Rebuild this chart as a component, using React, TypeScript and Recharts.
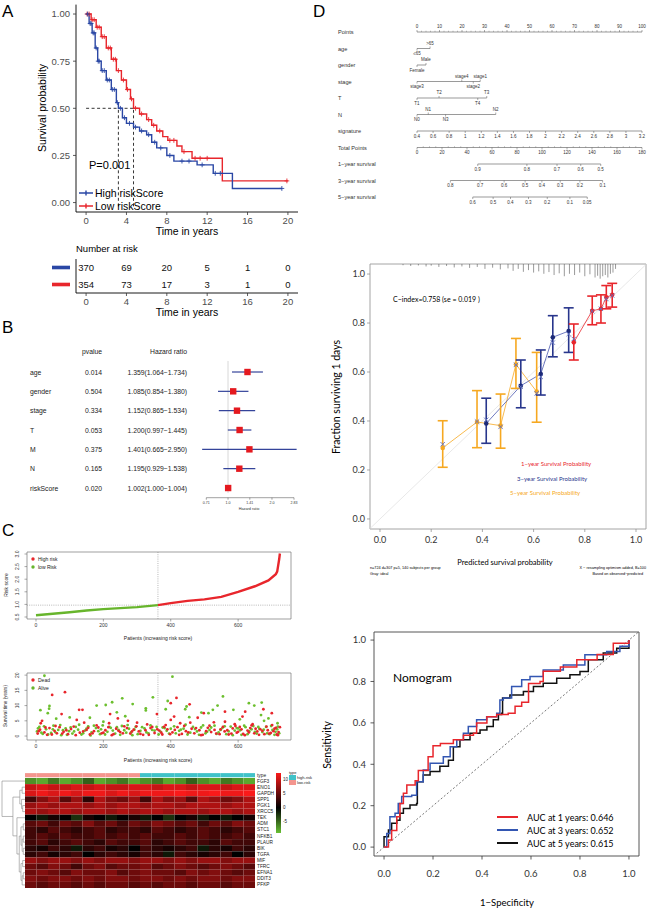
import React from 'react'
import {
  ComposedChart,
  Line,
  Scatter,
  XAxis,
  YAxis,
  ReferenceLine,
  ReferenceArea,
  ErrorBar,
} from 'recharts'

const SANS = '"Liberation Sans", Arial, Helvetica, sans-serif'
const MYR = 'Lato, "Noto Sans", sans-serif'

const BLUE = '#2a47a5'
const RED = '#e8262c'
const GREEN = '#67b52c'
const NAVY = '#28368c'
const ORANGE = '#f6a821'

// ---------- A: Kaplan-Meier ----------
const KM_HIGH: [number, number][] = [
  [0, 1], [0.3, 0.95], [0.6, 0.9], [0.9, 0.82], [1.15, 0.75], [1.5, 0.7], [2, 0.65], [2.5, 0.6],
  [3, 0.53], [3.2, 0.5], [3.6, 0.45], [4, 0.42], [4.7, 0.4], [5.3, 0.38], [6, 0.36], [6.5, 0.32],
  [7, 0.29], [8, 0.25], [8.7, 0.22], [11, 0.2], [12.6, 0.155], [14.5, 0.075], [19.4, 0.075],
]
const KM_LOW: [number, number][] = [
  [0, 1], [0.5, 0.97], [1, 0.93], [1.5, 0.88], [2, 0.82], [2.5, 0.76], [3, 0.7], [3.5, 0.65],
  [4, 0.6], [4.4, 0.55], [4.7, 0.5], [5.3, 0.47], [6, 0.44], [6.5, 0.41], [7, 0.38], [7.6, 0.35],
  [8.1, 0.33], [9, 0.3], [9.5, 0.27], [10.5, 0.235], [13.5, 0.115], [20, 0.115],
]
const CENS_HIGH_T = [0.15, 0.4, 0.5, 0.7, 0.8, 1.0, 1.2, 1.3, 1.6, 1.8, 2.1, 2.3, 2.6, 2.8, 3.1, 3.4, 3.8, 4.3, 4.9, 5.5, 6.2, 6.8, 7.4, 8.3, 9.5, 10.2, 11.5, 12.8, 13.3, 19.4]
const CENS_LOW_T = [0.1, 0.3, 0.6, 0.8, 1.1, 1.3, 1.6, 1.8, 2.2, 2.4, 2.7, 2.9, 3.2, 3.7, 4.1, 4.5, 4.9, 5.5, 6.2, 6.7, 7.3, 8.3, 8.7, 9.7, 10.8, 11.3, 12.0, 19.9]
const MEDIAN_HIGH = 3.2
const MEDIAN_LOW = 4.7
const KM_TICKS = [0, 4, 8, 12, 16, 20]
const AT_RISK_HIGH = [370, 69, 20, 5, 1, 0]
const AT_RISK_LOW = [354, 73, 17, 3, 1, 0]

// ---------- B: forest plot ----------
const VARS = ['age', 'gender', 'stage', 'T', 'M', 'N', 'riskScore']
const PVALS = ['0.014', '0.504', '0.334', '0.053', '0.375', '0.165', '0.020']
const HR = [1.359, 1.085, 1.152, 1.2, 1.401, 1.195, 1.002]
const HR_LO = [1.064, 0.854, 0.865, 0.997, 0.665, 0.929, 1.0]
const HR_HI = [1.734, 1.38, 1.534, 1.445, 2.95, 1.538, 1.004]
const HR_TICKS = [0.71, 1, 1.41, 2, 2.83]
const HR_TICK_LABELS = ['0.71', '1.0', '1.41', '2.0', '2.83']

// ---------- C: risk score, survival status, heatmap ----------
const RISK_LOW_CURVE: [number, number][] = [
  [0, 0.57], [50, 0.63], [100, 0.69], [150, 0.76], [200, 0.81], [250, 0.85], [300, 0.89], [362, 0.97],
]
const RISK_HIGH_CURVE: [number, number][] = [
  [362, 0.97], [400, 1.05], [450, 1.14], [500, 1.2], [550, 1.3], [600, 1.5], [650, 1.72], [690, 1.95],
  [712, 2.2], [716, 2.3], [719, 2.55], [722, 2.8], [724, 3.02],
]
const RISK_CUTOFF = 0.97
const CUT_PATIENT = 362
const PATIENT_TICKS = [0, 200, 400, 600]

const DEAD: [number, number][] = [
  [18, 5.0], [14, 4.2], [48, 13.5], [86, 14.4], [76, 7.2], [128, 8.6], [138, 8.6], [143, 4.4], [121, 5.3],
  [220, 7.2], [217, 4.2], [243, 5.8], [273, 5.0], [359, 7.2], [400, 10.8], [417, 12.5], [456, 10.4],
  [410, 6.4], [400, 5.3], [428, 4.2], [458, 4.4], [498, 7.5], [528, 4.5], [561, 8.0], [613, 6.4],
  [621, 8.0], [643, 3.9], [700, 7.5], [701, 3.6], [675, 8.8], [561, 4.7], [300, 4.4], [330, 3.8],
  [590, 3.9], [480, 6.0], [380, 3.0],
  [5, 0.8], [12, 2.1], [25, 1.2], [33, 0.4], [40, 2.6], [55, 1.7], [62, 0.9], [70, 2.9], [82, 1.4],
  [95, 0.6], [104, 2.3], [112, 3.1], [130, 1.1], [150, 2.0], [160, 0.5], [172, 1.6], [185, 2.8],
  [195, 0.9], [206, 1.9], [230, 0.6], [238, 2.4], [250, 1.3], [262, 3.2], [280, 0.8], [290, 2.1],
  [305, 1.5], [318, 0.4], [340, 2.6], [352, 1.0], [366, 1.8], [375, 0.5], [390, 2.2], [405, 1.2],
  [420, 2.9], [433, 0.7], [445, 1.6], [462, 2.4], [470, 0.9], [485, 1.9], [495, 0.4], [510, 2.7],
  [520, 1.3], [535, 0.8], [548, 2.2], [560, 1.5], [572, 0.5], [584, 2.5], [596, 1.1], [605, 3.0],
  [615, 0.7], [628, 1.8], [636, 2.6], [648, 0.9], [657, 1.5], [666, 2.2], [678, 0.6], [688, 1.9],
  [697, 1.0], [708, 2.4], [715, 0.5], [720, 1.3], [724, 2.9],
  [8, 1.6], [28, 2.8], [47, 0.5], [58, 3.3], [78, 0.8], [90, 1.9], [118, 0.3], [140, 1.5], [155, 2.7],
  [168, 0.9], [180, 3.5], [200, 1.1], [215, 2.9], [225, 0.3], [245, 1.7], [258, 0.9], [270, 2.6],
  [285, 1.5], [298, 3.2], [310, 0.7], [325, 1.9], [335, 0.4], [345, 3.0], [360, 2.2], [372, 1.1],
  [385, 3.6], [398, 0.6], [412, 2.0], [425, 0.4], [440, 3.3], [452, 1.2], [475, 2.6], [490, 0.3],
  [505, 1.6], [515, 3.4], [530, 2.0], [545, 0.6], [555, 3.0], [568, 1.9], [580, 0.8], [592, 3.3],
  [600, 1.4], [610, 2.2], [620, 0.3], [632, 1.2], [640, 3.5], [652, 2.4], [662, 0.4], [672, 1.7],
  [684, 3.1], [692, 0.8], [705, 1.6], [712, 2.7], [718, 0.3],
]
const ALIVE: [number, number][] = [
  [25, 19.8], [13, 8.5], [40, 9.9], [39, 9.0], [35, 7.5], [180, 10.0], [207, 10.2], [226, 11.1],
  [256, 12.4], [287, 10.5], [347, 12.7], [326, 9.1], [326, 8.4], [391, 11.5], [405, 19.5], [385, 8.8],
  [443, 8.8], [447, 9.7], [491, 7.7], [512, 7.5], [525, 8.6], [539, 10.0], [555, 13.0], [586, 8.6],
  [632, 10.8], [648, 10.0], [670, 11.0], [668, 6.9], [677, 5.0], [717, 4.2], [160, 6.0], [240, 7.8],
  [265, 6.5], [100, 6.1], [60, 5.7], [200, 4.7], [455, 6.2], [605, 5.5], [690, 5.8],
  [3, 1.5], [10, 3.0], [20, 0.7], [30, 2.2], [45, 1.0], [52, 3.4], [66, 2.0], [75, 0.3], [88, 2.5],
  [98, 1.6], [108, 0.8], [118, 3.0], [125, 2.1], [135, 0.5], [145, 1.8], [155, 3.2], [165, 1.2],
  [178, 2.6], [190, 0.6], [198, 3.5], [212, 1.4], [222, 2.7], [235, 0.8], [245, 2.0], [255, 3.3],
  [268, 1.1], [276, 2.4], [286, 0.3], [296, 3.0], [310, 1.7], [322, 2.5], [334, 0.9], [345, 2.0],
  [358, 3.0], [370, 1.4], [382, 2.6], [395, 0.8], [410, 3.2], [425, 1.7], [438, 2.4], [450, 0.5],
  [466, 3.0], [478, 1.5], [490, 2.8], [503, 0.9], [515, 2.0], [530, 3.4], [542, 1.2], [553, 2.6],
  [565, 0.6], [578, 3.1], [590, 1.8], [600, 2.5], [610, 0.4], [622, 2.9], [633, 1.6], [645, 3.3],
  [655, 0.8], [663, 2.4], [672, 1.3], [683, 3.0], [693, 0.6], [702, 2.0], [711, 1.4], [718, 3.1],
  [722, 0.9],
  [6, 2.5], [16, 1.1], [24, 3.2], [36, 0.5], [50, 2.2], [57, 1.3], [72, 3.6], [80, 1.9], [92, 0.4],
  [103, 2.8], [113, 1.5], [128, 3.7], [140, 0.9], [150, 2.4], [162, 0.2], [172, 3.4], [185, 1.6],
  [193, 2.2], [205, 0.5], [218, 3.0], [228, 1.8], [240, 2.9], [250, 0.4], [262, 1.9], [272, 3.6],
  [282, 1.2], [292, 2.1], [302, 0.6], [315, 2.9], [328, 1.2], [340, 3.5], [352, 1.8], [364, 0.5],
  [376, 2.8], [388, 1.7], [400, 2.4], [415, 0.9], [430, 2.1], [444, 3.7], [458, 1.1], [472, 2.3],
  [484, 0.4], [496, 3.5], [508, 1.4], [520, 2.8], [536, 0.7], [548, 2.0], [560, 3.2], [572, 1.5],
  [584, 0.3], [596, 2.6], [606, 1.9], [618, 3.4], [628, 0.6], [640, 2.2], [650, 1.4], [660, 3.0],
  [676, 2.1], [686, 0.9], [698, 3.3], [708, 0.4], [716, 2.2],
]

const GENES = ['FGF3', 'ENO1', 'GAPDH', 'SPP1', 'PGK1', 'XRCC5', 'TEK', 'ADM', 'STC1', 'NFKB1', 'PLAUR', 'BIK', 'TGFA', 'MIF', 'TFRC', 'EFNA1', 'DDIT3', 'PFKP']
const HEAT: number[][] = [
  [-6, -7, -5, -7, -6, -4, -7, -6, -5, -7, -6, -5, -7, -6, -4, -6, -7, -5, -6, -7],
  [9, 10, 9, 9, 10, 9, 10, 9, 9, 10, 10, 9, 10, 10, 9, 10, 10, 9, 10, 10],
  [10, 11, 10, 11, 10, 11, 11, 10, 11, 10, 11, 11, 11, 12, 11, 11, 12, 11, 11, 12],
  [3, 6, 8, 4, 7, 2, 8, 6, 5, 7, 3, 8, 6, 7, 4, 8, 7, 5, 6, 8],
  [7, 8, 7, 8, 8, 7, 8, 7, 8, 8, 7, 8, 8, 7, 8, 8, 8, 7, 8, 8],
  [8, 7, 8, 8, 7, 8, 8, 7, 8, 7, 8, 8, 7, 8, 8, 7, 8, 8, 7, 8],
  [0, -1, 1, 0, -2, 1, 0, -1, 0, 1, -1, 0, -2, 0, 1, -1, 0, -1, 0, 1],
  [4, 5, 3, 5, 4, 6, 4, 5, 3, 5, 4, 6, 5, 4, 5, 3, 5, 4, 6, 5],
  [3, 2, 4, 3, 2, 3, 4, 2, 3, 3, 2, 4, 3, 2, 3, 4, 3, 2, 3, 4],
  [3, 4, 3, 4, 3, 3, 4, 3, 4, 3, 4, 3, 3, 4, 3, 4, 3, 3, 4, 3],
  [3, 4, 2, 3, 4, 3, 2, 4, 3, 3, 4, 2, 3, 4, 3, 3, 2, 4, 3, 3],
  [2, 1, 3, 2, -1, 2, 3, 1, 2, 0, 3, 2, 1, 2, 3, -1, 2, 1, 3, 2],
  [2, 3, 1, 2, 3, 0, 2, 3, 2, 1, 3, 2, -1, 3, 2, 1, 2, 3, 0, 2],
  [7, 6, 7, 7, 6, 7, 6, 7, 7, 6, 7, 7, 6, 7, 6, 7, 7, 6, 7, 7],
  [5, 4, 6, 5, 3, 5, 6, 4, 5, 5, 6, 4, 5, 6, 5, 4, 5, 6, 5, 4],
  [5, 6, 5, 4, 6, 5, 5, 6, 4, 5, 6, 5, 5, 4, 6, 5, 6, 5, 4, 5],
  [6, 5, 6, 6, 5, 6, 5, 6, 6, 5, 6, 6, 5, 6, 5, 6, 6, 5, 6, 6],
  [5, 4, 5, 5, 4, 5, 4, 5, 5, 4, 5, 4, 5, 5, 4, 5, 5, 4, 5, 5],
]
const HEAT_TYPES = ['low', 'low', 'low', 'low', 'low', 'low', 'low', 'low', 'low', 'low',
  'high', 'high', 'high', 'high', 'high', 'high', 'high', 'high', 'high', 'high']
// gene clustering: [height, childA, childB]; 0..17 are genes, 18.. are earlier merges
const DENDRO: [number, number, number][] = [
  [-0.25, 1, 2], [-0.2, 4, 5], [-0.3, 3, 19], [-0.45, 18, 20],
  [-0.15, 7, 8], [-0.15, 9, 10], [-0.15, 11, 12], [-0.25, 23, 24], [-0.35, 22, 25],
  [-0.2, 13, 14], [-0.15, 15, 16], [-0.25, 28, 17], [-0.35, 27, 29], [-0.5, 26, 30],
  [-0.7, 6, 31], [-1.05, 21, 32], [-2.0, 0, 33],
]

// ---------- D: nomogram ----------
const NOMO_ROWS = ['Points', 'age', 'gender', 'stage', 'T', 'N', 'signature', 'Total Points', '1\u2212year survival', '3\u2212year survival', '5\u2212year survival']
const POINT_TICKS = [0, 10, 20, 30, 40, 50, 60, 70, 80, 90, 100]
const AGE_LEVELS: [number, string, number][] = [[0, '\u226465', 1], [5.8, '>65', -1]]
const GENDER_LEVELS: [number, string, number][] = [[0, 'Female', 1], [4, 'Male', -1]]
const STAGE_LEVELS: [number, string, number][] = [[0, 'stage3', 1], [19.9, 'stage4', -1], [25, 'stage2', 1], [28.1, 'stage1', -1]]
const T_LEVELS: [number, string, number][] = [[0, 'T1', 1], [9.8, 'T2', -1], [27, 'T4', 1], [31, 'T3', -1]]
const N_LEVELS: [number, string, number][] = [[0, 'N0', 1], [5, 'N1', -1], [12.7, 'N3', 1], [35, 'N2', -1]]
const SIG_TICKS = [0.4, 0.6, 0.8, 1, 1.2, 1.4, 1.6, 1.8, 2, 2.2, 2.4, 2.6, 2.8, 3, 3.2]
const TOTAL_TICKS = [0, 20, 40, 60, 80, 100, 120, 140, 160, 180]
const SURV1: [number, string][] = [[48.6, '0.9'], [87.9, '0.8'], [112, '0.7'], [131, '0.6'], [147, '0.5']]
const SURV3: [number, string][] = [[26.7, '0.8'], [50.5, '0.7'], [69.7, '0.6'], [86.5, '0.5'], [99.9, '0.4'], [114.6, '0.3'], [130.3, '0.2'], [148.5, '0.1']]
const SURV5: [number, string][] = [[44.6, '0.6'], [60.9, '0.5'], [74.8, '0.4'], [89.2, '0.3'], [104.2, '0.2'], [122.3, '0.1'], [136.2, '0.05']]

// ---------- D: calibration ----------
const CAL1_PRED = [0.757, 0.829, 0.863, 0.884, 0.907]
const CAL1_OBS = [0.721, 0.85, 0.858, 0.905, 0.915]
const CAL1_LO = [0.649, 0.793, 0.8, 0.858, 0.865]
const CAL1_HI = [0.796, 0.91, 0.915, 0.953, 0.962]
const CAL1_CORR = [0.735, 0.848, 0.858, 0.898, 0.912]
const CAL3_PRED = [0.415, 0.55, 0.628, 0.675, 0.737]
const CAL3_OBS = [0.39, 0.544, 0.592, 0.742, 0.767]
const CAL3_LO = [0.309, 0.454, 0.506, 0.662, 0.68]
const CAL3_HI = [0.493, 0.649, 0.69, 0.83, 0.862]
const CAL3_CORR = [0.405, 0.54, 0.58, 0.72, 0.755]
const CAL5_PRED = [0.245, 0.379, 0.471, 0.531, 0.612]
const CAL5_OBS = [0.29, 0.396, 0.381, 0.631, 0.52]
const CAL5_LO = [0.211, 0.291, 0.289, 0.533, 0.395]
const CAL5_HI = [0.401, 0.524, 0.51, 0.737, 0.68]
const CAL5_CORR = [0.305, 0.398, 0.376, 0.629, 0.513]
const CAL_HIST: [number, number][] = [
  [0.09, 0.005], [0.12, 0.008], [0.15, 0.006], [0.18, 0.01], [0.2, 0.007], [0.23, 0.012], [0.26, 0.008],
  [0.29, 0.014], [0.32, 0.01], [0.35, 0.016], [0.38, 0.012], [0.41, 0.02], [0.44, 0.015], [0.47, 0.022],
  [0.5, 0.018], [0.52, 0.028], [0.54, 0.02], [0.56, 0.032], [0.58, 0.025], [0.6, 0.035], [0.62, 0.03],
  [0.64, 0.04], [0.66, 0.033], [0.68, 0.045], [0.7, 0.038], [0.72, 0.05], [0.74, 0.04], [0.76, 0.045],
  [0.78, 0.035], [0.8, 0.05], [0.82, 0.042], [0.84, 0.055], [0.85, 0.048], [0.86, 0.06], [0.87, 0.05],
  [0.88, 0.045], [0.89, 0.055], [0.9, 0.04], [0.91, 0.035], [0.92, 0.02],
]
const UNIT_TICKS = [0, 0.2, 0.4, 0.6, 0.8, 1]

// ---------- D: ROC ----------
const ROC1: [number, number][] = [
  [0, 0], [0.018, 0.034], [0.031, 0.08], [0.052, 0.147], [0.065, 0.21], [0.079, 0.26], [0.093, 0.3],
  [0.127, 0.32], [0.14, 0.37], [0.167, 0.37], [0.18, 0.437], [0.2, 0.49], [0.23, 0.5], [0.283, 0.518],
  [0.324, 0.54], [0.365, 0.55], [0.378, 0.6], [0.42, 0.63], [0.46, 0.64], [0.507, 0.647], [0.535, 0.68],
  [0.562, 0.7], [0.59, 0.79], [0.637, 0.8], [0.65, 0.85], [0.72, 0.87], [0.787, 0.905], [0.87, 0.93],
  [0.936, 0.985], [0.977, 0.985], [1, 1],
]
const ROC3: [number, number][] = [
  [0, 0], [0.011, 0.066], [0.024, 0.147], [0.045, 0.163], [0.058, 0.21], [0.072, 0.244], [0.113, 0.25],
  [0.133, 0.316], [0.16, 0.373], [0.188, 0.405], [0.242, 0.437], [0.27, 0.485], [0.297, 0.518],
  [0.324, 0.55], [0.344, 0.582], [0.378, 0.615], [0.419, 0.63], [0.46, 0.647], [0.473, 0.711],
  [0.487, 0.72], [0.521, 0.776], [0.562, 0.808], [0.596, 0.824], [0.65, 0.856], [0.732, 0.88],
  [0.82, 0.929], [0.909, 0.945], [0.963, 0.97], [1, 1],
]
const ROC5: [number, number][] = [
  [0, 0], [0, 0.05], [0.018, 0.082], [0.031, 0.115], [0.052, 0.13], [0.065, 0.163], [0.079, 0.187],
  [0.106, 0.203], [0.133, 0.21], [0.136, 0.316], [0.16, 0.348], [0.188, 0.365], [0.228, 0.39],
  [0.263, 0.42], [0.283, 0.485], [0.31, 0.518], [0.351, 0.55], [0.392, 0.566], [0.42, 0.582],
  [0.446, 0.615], [0.467, 0.64], [0.48, 0.647], [0.484, 0.72], [0.514, 0.735], [0.569, 0.752],
  [0.61, 0.776], [0.65, 0.792], [0.705, 0.816], [0.759, 0.832], [0.8, 0.848], [0.834, 0.905],
  [0.895, 0.937], [0.95, 0.961], [0.984, 0.961], [1, 1],
]
const AUC_LABELS = ['AUC at 1 years: 0.646', 'AUC at 3 years: 0.652', 'AUC at 5 years: 0.615']

// ---------- helpers ----------
const pts = (a: [number, number][]) => a.map(([x, y]) => ({ x, y }))

function stepAt(curve: [number, number][], t: number) {
  let v = curve[0][1]
  for (const [x, y] of curve) if (x <= t) v = y
  return v
}

function heatColor(v: number) {
  if (v >= 0) {
    const t = Math.min(1, v / 11.5)
    return `rgb(${Math.round(250 * t)},${Math.round(26 * t)},${Math.round(26 * t)})`
  }
  const t = Math.min(1, -v / 8)
  return `rgb(${Math.round(104 * t)},${Math.round(192 * t)},${Math.round(52 * t)})`
}

type TxtProps = {
  x: number
  y: number
  size: number
  anchor?: 'start' | 'middle' | 'end'
  color?: string
  rotate?: boolean
  font?: string
  children: React.ReactNode
}

function Txt({ x, y, size, anchor = 'start', color = '#000', rotate = false, font = SANS, children }: TxtProps) {
  const tx = anchor === 'start' ? '0' : anchor === 'middle' ? '-50%' : '-100%'
  return (
    <div
      style={{
        position: 'absolute',
        left: x,
        top: y,
        fontSize: size,
        fontFamily: font,
        color,
        lineHeight: 1,
        whiteSpace: 'nowrap',
        transform: rotate ? 'translate(-50%,-50%) rotate(-90deg)' : `translate(${tx},-50%)`,
      }}
    >
      {children}
    </div>
  )
}

function At({ x, y, children }: { x: number; y: number; children: React.ReactNode }) {
  return <div style={{ position: 'absolute', left: x, top: y }}>{children}</div>
}

const plusShape = (color: string) => (p: any) =>
  <path d={`M${p.cx - 2.4},${p.cy}h4.8M${p.cx},${p.cy - 2.4}v4.8`} stroke={color} strokeWidth={0.9} fill="none" />

const dotShape = (color: string, r: number) => (p: any) => <circle cx={p.cx} cy={p.cy} r={r} fill={color} />

const xShape = (color: string) => (p: any) =>
  <path d={`M${p.cx - 2.2},${p.cy - 2.2}l4.4,4.4M${p.cx - 2.2},${p.cy + 2.2}l4.4,-4.4`} stroke={color} strokeWidth={0.9} fill="none" />

// ---------- panel A ----------
function PanelA() {
  const tick = { fontSize: 9.5, fill: '#4d4d4d', fontFamily: SANS }
  const axisLine = { stroke: '#000', strokeWidth: 0.9 }
  const tickLine = { stroke: '#333', strokeWidth: 0.8 }
  const censHigh = CENS_HIGH_T.map((t) => ({ x: t, y: stepAt(KM_HIGH, t) }))
  const censLow = CENS_LOW_T.map((t) => ({ x: t, y: stepAt(KM_LOW, t) }))
  const tableHigh = KM_TICKS.map((t, i) => ({ x: t, y: 2, n: AT_RISK_HIGH[i] }))
  const tableLow = KM_TICKS.map((t, i) => ({ x: t, y: 1, n: AT_RISK_LOW[i] }))
  const numShape = (p: any) => (
    <text x={p.cx} y={p.cy} textAnchor="middle" dominantBaseline="central" fontSize={9.5} fontFamily={SANS} fill="#111">
      {p.payload.n}
    </text>
  )
  const riskTick = (p: any) => (
    <rect x={52} y={p.y - 1.8} width={18} height={3.6} fill={p.payload.value === 2 ? BLUE : RED} />
  )
  return (
    <>
      <Txt x={2} y={11} size={17}>A</Txt>
      <At x={0} y={0}>
        <ComposedChart width={300} height={240} margin={{ top: 4.6, right: 2, bottom: 0, left: 0 }}>
          <XAxis type="number" dataKey="x" domain={[-1, 21]} ticks={KM_TICKS} interval={0} height={28}
            tick={tick} tickSize={3} tickMargin={2} axisLine={axisLine} tickLine={tickLine} />
          <YAxis type="number" dataKey="y" domain={[-0.05, 1.05]} ticks={[0, 0.25, 0.5, 0.75, 1]} interval={0}
            width={76} tickFormatter={(v: number) => v.toFixed(2)} tick={tick} tickSize={3} tickMargin={3}
            axisLine={axisLine} tickLine={tickLine} />
          <ReferenceLine ifOverflow="visible" segment={[{ x: 0, y: 0.5 }, { x: MEDIAN_LOW, y: 0.5 }]} stroke="#000" strokeDasharray="3 2.5" strokeWidth={0.8} />
          <ReferenceLine ifOverflow="visible" segment={[{ x: MEDIAN_HIGH, y: -0.02 }, { x: MEDIAN_HIGH, y: 0.5 }]} stroke="#000" strokeDasharray="3 2.5" strokeWidth={0.8} />
          <ReferenceLine ifOverflow="visible" segment={[{ x: MEDIAN_LOW, y: -0.02 }, { x: MEDIAN_LOW, y: 0.5 }]} stroke="#000" strokeDasharray="3 2.5" strokeWidth={0.8} />
          <Line data={pts(KM_LOW)} dataKey="y" type="stepAfter" stroke={RED} strokeWidth={1.4} dot={false} isAnimationActive={false} />
          <Line data={pts(KM_HIGH)} dataKey="y" type="stepAfter" stroke={BLUE} strokeWidth={1.4} dot={false} isAnimationActive={false} />
          <Scatter data={censLow} dataKey="y" shape={plusShape(RED)} isAnimationActive={false} />
          <Scatter data={censHigh} dataKey="y" shape={plusShape(BLUE)} isAnimationActive={false} />
        </ComposedChart>
      </At>
      <Txt x={42} y={108} size={10.5} rotate>Survival probability</Txt>
      <Txt x={187} y={231} size={10.5} anchor="middle">Time in years</Txt>
      <Txt x={89} y={165} size={11}>P=0.001</Txt>
      <svg style={{ position: 'absolute', left: 76, top: 187 }} width={20} height={24}>
        <path d="M3,6h14M10,3.5v5" stroke={BLUE} strokeWidth={1.4} />
        <path d="M3,19h14M10,16.5v5" stroke={RED} strokeWidth={1.4} />
      </svg>
      <Txt x={95} y={193} size={10.5}>High riskScore</Txt>
      <Txt x={95} y={206} size={10.5}>Low riskScore</Txt>
      <Txt x={76} y={249} size={9.5}>Number at risk</Txt>
      <At x={0} y={250}>
        <ComposedChart width={300} height={65} margin={{ top: 9, right: 2, bottom: 0, left: 0 }}>
          <XAxis type="number" dataKey="x" domain={[-1, 21]} ticks={KM_TICKS} interval={0} height={22}
            tick={tick} tickSize={3} tickMargin={2} axisLine={axisLine} tickLine={tickLine} />
          <YAxis type="number" dataKey="y" domain={[0.5, 2.5]} ticks={[1, 2]} interval={0} width={76}
            tick={riskTick} tickLine={false} axisLine={axisLine} />
          <Scatter data={tableHigh} dataKey="y" shape={numShape} isAnimationActive={false} />
          <Scatter data={tableLow} dataKey="y" shape={numShape} isAnimationActive={false} />
        </ComposedChart>
      </At>
      <Txt x={187} y={312} size={10.5} anchor="middle">Time in years</Txt>
    </>
  )
}

// ---------- panel B ----------
function PanelB() {
  const fmt = (v: number) => v.toFixed(3)
  const rows = VARS.map((_, i) => ({ x: HR[i], y: 7 - i }))
  const forestTick = (p: any) => {
    const i = 7 - p.payload.value
    return (
      <g fontFamily={SANS} fontSize={6.8} fill="#222">
        <text x={30} y={p.y} dominantBaseline="central">{VARS[i]}</text>
        <text x={102} y={p.y} textAnchor="end" dominantBaseline="central">{PVALS[i]}</text>
        <text x={187} y={p.y} textAnchor="end" dominantBaseline="central">
          {`${fmt(HR[i])}(${fmt(HR_LO[i])}\u2212${fmt(HR_HI[i])})`}
        </text>
      </g>
    )
  }
  return (
    <>
      <Txt x={2} y={327} size={17}>B</Txt>
      <Txt x={102} y={352} size={6.8} anchor="end" color="#222">pvalue</Txt>
      <Txt x={187} y={352} size={6.8} anchor="end" color="#222">Hazard ratio</Txt>
      <At x={0} y={350}>
        <ComposedChart width={300} height={165} margin={{ top: 10.4, right: 2.3, bottom: 5.3, left: 0 }}>
          <XAxis type="number" dataKey="x" scale="log" domain={[0.65, 3]} allowDataOverflow ticks={HR_TICKS} interval={0}
            height={12} axisLine={false} tickSize={2} tickMargin={1.5} tickLine={{ stroke: '#444', strokeWidth: 0.5 }}
            tick={{ fontSize: 3.6, fill: '#333', fontFamily: SANS }}
            tickFormatter={(v: number) => HR_TICK_LABELS[HR_TICKS.indexOf(v)]} />
          <YAxis type="number" dataKey="y" domain={[0.5, 7.6]} ticks={[1, 2, 3, 4, 5, 6, 7]} interval={0}
            width={200.7} axisLine={false} tickLine={false} tick={forestTick} />
          <ReferenceLine ifOverflow="visible" segment={[{ x: 0.71, y: 0.5 }, { x: 2.83, y: 0.5 }]} stroke="#444" strokeWidth={0.5} />
          <ReferenceLine ifOverflow="visible" segment={[{ x: 1, y: 0.74 }, { x: 1, y: 7.57 }]} stroke="#cfcfcf" strokeWidth={0.8} />
          {VARS.map((v, i) => (
            <ReferenceLine key={v} ifOverflow="visible" segment={[{ x: HR_LO[i], y: 7 - i }, { x: HR_HI[i], y: 7 - i }]}
              stroke="#34449a" strokeWidth={1.2} />
          ))}
          <Scatter data={rows} dataKey="y" isAnimationActive={false}
            shape={(p: any) => <rect x={p.cx - 3.2} y={p.cy - 3.2} width={6.4} height={6.4} fill="#e4191f" />} />
        </ComposedChart>
      </At>
      <Txt x={249} y={509.5} size={3.8} anchor="middle" color="#333">Hazard ratio</Txt>
    </>
  )
}

// ---------- panel C ----------
function rotTick(fmt: (v: number) => string) {
  return (p: any) => (
    <text x={17} y={p.y} transform={`rotate(-90 17 ${p.y})`} textAnchor="middle" dominantBaseline="central"
      fontSize={5} fill="#333" fontFamily={SANS}>
      {fmt(p.payload.value)}
    </text>
  )
}

function PanelC() {
  const xTick = { fontSize: 5, fill: '#333', fontFamily: SANS }
  const tl = { stroke: '#555', strokeWidth: 0.5 }
  const frame = { fill: 'none', stroke: '#777', strokeWidth: 0.7, fillOpacity: 0 }
  const cells: { c: number; r: number; v: number }[] = []
  HEAT.forEach((row, r) => row.forEach((v, c) => cells.push({ c, r, v })))

  // dendrogram segments from the merge list
  const pos: { h: number; y: number }[] = GENES.map((_, i) => ({ h: 0, y: i }))
  const segs: [number, number, number, number][] = []
  DENDRO.forEach(([h, a, b]) => {
    const A = pos[a]
    const B = pos[b]
    segs.push([h, A.y, h, B.y], [A.h, A.y, h, A.y], [B.h, B.y, h, B.y])
    pos.push({ h, y: (A.y + B.y) / 2 })
  })
  const geneTick = (p: any) => (
    <text x={p.x} y={p.y} dominantBaseline="central" fontSize={4.8} fill="#222" fontFamily={SANS}>
      {p.payload.value < 0 ? 'type' : GENES[p.payload.value]}
    </text>
  )
  return (
    <>
      <Txt x={2} y={530} size={17}>C</Txt>
      <At x={0} y={540}>
        <ComposedChart width={296} height={100} margin={{ top: 12, right: 5, bottom: 9, left: 0 }}>
          <XAxis type="number" dataKey="x" domain={[-26.7, 757]} ticks={PATIENT_TICKS} interval={0} height={12}
            axisLine={false} tickSize={2.5} tickMargin={1.5} tickLine={tl} tick={xTick} />
          <YAxis type="number" dataKey="y" domain={[0.42, 3.08]} ticks={[0.5, 1, 1.5, 2, 2.5, 3]} interval={0}
            width={27} axisLine={false} tickSize={2.5} tickLine={tl} tick={rotTick((v) => v.toFixed(1))} />
          <ReferenceArea ifOverflow="visible" x1={-26.7} x2={757} y1={0.42} y2={3.08} {...frame} />
          <ReferenceLine y={RISK_CUTOFF} stroke="#888" strokeDasharray="1 1.2" strokeWidth={0.6} />
          <ReferenceLine x={CUT_PATIENT} stroke="#888" strokeDasharray="1 1.2" strokeWidth={0.6} />
          <Line data={pts(RISK_LOW_CURVE)} dataKey="y" stroke={GREEN} strokeWidth={2.4} dot={false} isAnimationActive={false} />
          <Line data={pts(RISK_HIGH_CURVE)} dataKey="y" stroke={RED} strokeWidth={2.4} dot={false} isAnimationActive={false} />
        </ComposedChart>
      </At>
      <svg style={{ position: 'absolute', left: 30, top: 555 }} width={6} height={16}>
        <circle cx={3} cy={4} r={1.7} fill={RED} />
        <circle cx={3} cy={12} r={1.7} fill={GREEN} />
      </svg>
      <Txt x={38} y={559} size={5} color="#222">High risk</Txt>
      <Txt x={38} y={567} size={5} color="#222">low Risk</Txt>
      <Txt x={6} y={585} size={5} rotate color="#222">Risk score</Txt>
      <Txt x={158} y={638} size={5} anchor="middle" color="#222">Patients (increasing risk score)</Txt>

      <At x={0} y={665}>
        <ComposedChart width={296} height={100} margin={{ top: 8, right: 5, bottom: 13, left: 0 }}>
          <XAxis type="number" dataKey="x" domain={[-26.7, 757]} ticks={PATIENT_TICKS} interval={0} height={12}
            axisLine={false} tickSize={2.5} tickMargin={1.5} tickLine={tl} tick={xTick} />
          <YAxis type="number" dataKey="y" domain={[-1.3, 20.7]} ticks={[0, 5, 10, 15, 20]} interval={0}
            width={27} axisLine={false} tickSize={2.5} tickLine={tl} tick={rotTick((v) => String(v))} />
          <ReferenceArea ifOverflow="visible" x1={-26.7} x2={757} y1={-1.3} y2={20.7} {...frame} />
          <ReferenceLine x={CUT_PATIENT} stroke="#888" strokeDasharray="1 1.2" strokeWidth={0.6} />
          <Scatter data={pts(ALIVE)} dataKey="y" shape={dotShape('#6cbf2e', 1.4)} isAnimationActive={false} />
          <Scatter data={pts(DEAD)} dataKey="y" shape={dotShape(RED, 1.4)} isAnimationActive={false} />
        </ComposedChart>
      </At>
      <svg style={{ position: 'absolute', left: 30, top: 676 }} width={6} height={16}>
        <circle cx={3} cy={4} r={1.7} fill={RED} />
        <circle cx={3} cy={12} r={1.7} fill={GREEN} />
      </svg>
      <Txt x={38} y={680} size={5} color="#222">Dead</Txt>
      <Txt x={38} y={688} size={5} color="#222">Alive</Txt>
      <Txt x={6} y={706} size={4.6} rotate color="#222">Survival time (years)</Txt>
      <Txt x={158} y={760} size={5} anchor="middle" color="#222">Patients (increasing risk score)</Txt>

      <At x={0} y={765}>
        <ComposedChart width={300} height={130} margin={{ top: 7.5, right: 0, bottom: 7, left: 0 }}>
          <XAxis type="number" dataKey="x" domain={[-2.174, 20]} hide />
          <YAxis type="number" dataKey="y" domain={[-1.4, 17.5]} reversed orientation="right" width={45}
            ticks={[-0.95, ...GENES.map((_, i) => i)]} interval={0} axisLine={false} tickLine={false} tickSize={0} tickMargin={2}
            tick={geneTick} />
          {HEAT_TYPES.map((t, c) => (
            <ReferenceArea key={'a' + c} x1={c} x2={c + 1} y1={-1.3} y2={-0.62} fill={t === 'low' ? '#f4958e' : '#40c2c8'}
              fillOpacity={1} stroke="none" ifOverflow="visible" />
          ))}
          {cells.map((d) => (
            <ReferenceArea key={d.r + '-' + d.c} x1={d.c} x2={d.c + 1} y1={d.r - 0.5} y2={d.r + 0.5} fill={heatColor(d.v)}
              fillOpacity={1} stroke="none" ifOverflow="visible" />
          ))}
          {segs.map((s, i) => (
            <ReferenceLine key={'d' + i} ifOverflow="visible" segment={[{ x: s[0], y: s[1] }, { x: s[2], y: s[3] }]}
              stroke="#888" strokeWidth={0.6} />
          ))}
          <Scatter data={GENES.map((_, i) => ({ x: 0, y: i }))} dataKey="y" shape={() => <g />} isAnimationActive={false} />
        </ComposedChart>
      </At>
      <div style={{
        position: 'absolute', left: 276, top: 773, width: 5, height: 60,
        background: 'linear-gradient(to bottom, rgb(250,26,26) 0%, rgb(0,0,0) 58%, rgb(104,192,52) 100%)',
      }} />
      <Txt x={283} y={780} size={4.5} color="#222">10</Txt>
      <Txt x={283} y={794} size={4.5} color="#222">5</Txt>
      <Txt x={283} y={808} size={4.5} color="#222">0</Txt>
      <Txt x={283} y={822} size={4.5} color="#222">-5</Txt>
      <Txt x={289} y={773} size={4} color="#222">type</Txt>
      <div style={{ position: 'absolute', left: 289, top: 775, width: 7, height: 5, background: '#40c2c8' }} />
      <div style={{ position: 'absolute', left: 289, top: 780, width: 7, height: 5, background: '#f4958e' }} />
      <Txt x={297} y={777.5} size={4} color="#222">high-risk</Txt>
      <Txt x={297} y={782.5} size={4} color="#222">low-risk</Txt>
    </>
  )
}

// ---------- panel D: nomogram ----------
function Nomogram() {
  const items: { x: number; y: number; label: string; side: number }[] = []
  POINT_TICKS.forEach((v) => items.push({ x: v, y: 0, label: String(v), side: -1 }))
  for (let v = 0; v <= 100; v += 2) if (v % 10) items.push({ x: v, y: 0, label: '', side: 0 })
  ;[AGE_LEVELS, GENDER_LEVELS, STAGE_LEVELS, T_LEVELS, N_LEVELS].forEach((lv, i) =>
    lv.forEach(([p, l, s]) => items.push({ x: p, y: i + 1, label: l, side: s })),
  )
  SIG_TICKS.forEach((v) => items.push({ x: ((v - 0.4) / 2.8) * 100, y: 6, label: String(+v.toFixed(1)), side: 1 }))
  TOTAL_TICKS.forEach((v) => items.push({ x: v / 1.8, y: 7, label: String(v), side: 1 }))
  for (let v = 0; v <= 180; v += 5) if (v % 20) items.push({ x: v / 1.8, y: 7, label: '', side: 0 })
  ;[SURV1, SURV3, SURV5].forEach((lv, i) => lv.forEach(([t, l]) => items.push({ x: t / 1.8, y: 8 + i, label: l, side: 1 })))

  const extents = NOMO_ROWS.map((_, r) => {
    const xs = items.filter((d) => d.y === r).map((d) => d.x)
    return [Math.min(...xs), Math.max(...xs)]
  })
  const shape = (p: any) => {
    const { cx, cy, payload } = p
    const s = payload.side
    if (s === 0) return <line x1={cx} x2={cx} y1={cy} y2={cy - 1.3} stroke="#666" strokeWidth={0.4} />
    return (
      <g>
        <line x1={cx} x2={cx} y1={cy} y2={cy + s * 2} stroke="#555" strokeWidth={0.5} />
        <text x={cx} y={cy + s * 5.3} textAnchor="middle" dominantBaseline="central" fontSize={4.5} fill="#333" fontFamily={SANS}>
          {payload.label}
        </text>
      </g>
    )
  }
  const rowTick = (p: any) => (
    <text x={8} y={p.y} dominantBaseline="central" fontSize={5.6} fill="#333" fontFamily={SANS}>
      {NOMO_ROWS[p.payload.value]}
    </text>
  )
  return (
    <>
      <Txt x={313} y={11} size={17}>D</Txt>
      <At x={330} y={15}>
        <ComposedChart width={319} height={200} margin={{ top: 0.5, right: 7, bottom: 1.5, left: 0 }}>
          <XAxis type="number" dataKey="x" domain={[0, 100]} hide />
          <YAxis type="number" dataKey="y" domain={[-1, 11]} reversed ticks={NOMO_ROWS.map((_, i) => i)}
            interval={0} width={87} axisLine={false} tickLine={false} tick={rowTick} />
          {extents.map(([a, b], r) => (
            <ReferenceLine key={r} ifOverflow="visible" segment={[{ x: a, y: r }, { x: b, y: r }]} stroke="#555" strokeWidth={0.6} />
          ))}
          <Scatter data={items} dataKey="y" shape={shape} isAnimationActive={false} />
        </ComposedChart>
      </At>
    </>
  )
}

// ---------- panel D: calibration ----------
function calSeries(pred: number[], obs: number[], lo: number[], hi: number[]) {
  return pred.map((x, i) => ({ x, y: obs[i], err: [obs[i] - lo[i], hi[i] - obs[i]] }))
}
const corrSeries = (pred: number[], corr: number[]) => pred.map((x, i) => ({ x, y: corr[i] }))

function Calibration() {
  const tick = { fontSize: 9, fill: '#333', fontFamily: MYR }
  const tl = { stroke: '#888', strokeWidth: 0.7 }
  const s1 = calSeries(CAL1_PRED, CAL1_OBS, CAL1_LO, CAL1_HI)
  const s3 = calSeries(CAL3_PRED, CAL3_OBS, CAL3_LO, CAL3_HI)
  const s5 = calSeries(CAL5_PRED, CAL5_OBS, CAL5_LO, CAL5_HI)
  return (
    <>
      <At x={330} y={255}>
        <ComposedChart width={319} height={300} margin={{ top: 9, right: 3, bottom: 6, left: 0 }}>
          <XAxis type="number" dataKey="x" domain={[-0.039, 1.039]} ticks={UNIT_TICKS} interval={0} height={20}
            axisLine={false} tickSize={3} tickMargin={5} tickLine={tl} tick={tick} tickFormatter={(v: number) => v.toFixed(1)} />
          <YAxis type="number" dataKey="y" domain={[-0.041, 1.041]} ticks={UNIT_TICKS} interval={0} width={40}
            axisLine={false} tickSize={3} tickMargin={2} tickLine={tl} tick={tick} tickFormatter={(v: number) => v.toFixed(1)} />
          <ReferenceArea ifOverflow="visible" x1={-0.039} x2={1.039} y1={-0.041} y2={1.041} fill="none" fillOpacity={0} stroke="#9a9a9a" strokeWidth={0.9} />
          <ReferenceLine ifOverflow="visible" segment={[{ x: -0.039, y: -0.039 }, { x: 1.039, y: 1.039 }]} stroke="#e2e2e2" strokeWidth={0.8} />
          {CAL_HIST.map(([x, h], i) => (
            <ReferenceLine key={i} ifOverflow="visible" segment={[{ x, y: 1.041 }, { x, y: 1.041 - h }]} stroke="#555" strokeWidth={0.6} />
          ))}
          <Line data={s5} dataKey="y" stroke={ORANGE} strokeWidth={0.8} dot={false} isAnimationActive={false} />
          <Line data={s3} dataKey="y" stroke="#4a58b0" strokeWidth={0.8} dot={false} isAnimationActive={false} />
          <Line data={s1} dataKey="y" stroke={RED} strokeWidth={0.8} dot={false} isAnimationActive={false} />
          <Scatter data={s5} dataKey="y" shape={dotShape(ORANGE, 2.3)} isAnimationActive={false}>
            <ErrorBar dataKey="err" direction="y" width={5} stroke={ORANGE} strokeWidth={1.6} />
          </Scatter>
          <Scatter data={s3} dataKey="y" shape={dotShape('#1d2a78', 2.3)} isAnimationActive={false}>
            <ErrorBar dataKey="err" direction="y" width={5} stroke={NAVY} strokeWidth={1.6} />
          </Scatter>
          <Scatter data={s1} dataKey="y" shape={dotShape(RED, 2.3)} isAnimationActive={false}>
            <ErrorBar dataKey="err" direction="y" width={5} stroke={RED} strokeWidth={1.6} />
          </Scatter>
          <Scatter data={corrSeries(CAL5_PRED, CAL5_CORR)} dataKey="y" shape={xShape('#6272c0')} isAnimationActive={false} />
          <Scatter data={corrSeries(CAL3_PRED, CAL3_CORR)} dataKey="y" shape={xShape('#6272c0')} isAnimationActive={false} />
          <Scatter data={corrSeries(CAL1_PRED, CAL1_CORR)} dataKey="y" shape={xShape('#6272c0')} isAnimationActive={false} />
        </ComposedChart>
      </At>
      <Txt x={336} y={397} size={10.5} rotate font={MYR}>Fraction surviving 1 days</Txt>
      <Txt x={505} y={563} size={7.5} anchor="middle" font={MYR}>Predicted survival probability</Txt>
      <Txt x={393} y={299} size={7} font={MYR}>{'C\u2212index=0.758 (se = 0.019 )'}</Txt>
      <Txt x={521} y={464} size={6} font={MYR} color={RED}>{'1\u2212year Survival Probability'}</Txt>
      <Txt x={517} y={479} size={6} font={MYR} color={NAVY}>{'3\u2212year Survival Probability'}</Txt>
      <Txt x={510} y={493} size={6} font={MYR} color={ORANGE}>{'5\u2212year Survival Probability'}</Txt>
      <Txt x={370} y={569} size={3.8} font={SANS}>n=724 d=307 p=5, 140 subjects per group</Txt>
      <Txt x={370} y={575} size={3.8} font={SANS}>Gray: ideal</Txt>
      <Txt x={646} y={569} size={3.8} anchor="end" font={SANS}>{'X \u2212 resampling optimism added, B=100'}</Txt>
      <Txt x={643} y={575} size={3.8} anchor="end" font={SANS}>{'Based on observed\u2212predicted'}</Txt>
    </>
  )
}

// ---------- panel D: ROC ----------
function Roc() {
  const tick = { fontSize: 9.5, fill: '#333', fontFamily: MYR }
  const tl = { stroke: '#333', strokeWidth: 0.8 }
  const colors = [RED, '#3356b2', '#111']
  return (
    <>
      <At x={330} y={625}>
        <ComposedChart width={319} height={286} margin={{ top: 7, right: 10, bottom: 25, left: 0 }}>
          <XAxis type="number" dataKey="x" domain={[-0.041, 1.041]} ticks={UNIT_TICKS} interval={0} height={30}
            axisLine={false} tickSize={3.5} tickMargin={11} tickLine={tl} tick={tick} tickFormatter={(v: number) => v.toFixed(1)} />
          <YAxis type="number" dataKey="y" domain={[-0.043, 1.039]} ticks={UNIT_TICKS} interval={0} width={44}
            axisLine={false} tickSize={3.5} tickMargin={4.5} tickLine={tl} tick={tick} tickFormatter={(v: number) => v.toFixed(1)} />
          <ReferenceArea ifOverflow="visible" x1={-0.041} x2={1.041} y1={-0.043} y2={1.039} fill="none" fillOpacity={0} stroke="#444" strokeWidth={0.9} />
          <ReferenceLine ifOverflow="visible" segment={[{ x: -0.03, y: -0.03 }, { x: 1.039, y: 1.039 }]} stroke="#555" strokeWidth={0.8} strokeDasharray="2 2" />
          <Line data={pts(ROC5)} dataKey="y" type="stepAfter" stroke={colors[2]} strokeWidth={1.5} dot={false} isAnimationActive={false} />
          <Line data={pts(ROC3)} dataKey="y" type="stepAfter" stroke={colors[1]} strokeWidth={1.5} dot={false} isAnimationActive={false} />
          <Line data={pts(ROC1)} dataKey="y" type="stepAfter" stroke={colors[0]} strokeWidth={1.5} dot={false} isAnimationActive={false} />
        </ComposedChart>
      </At>
      <Txt x={393} y={678} size={12} font={MYR}>Nomogram</Txt>
      <Txt x={327} y={745} size={10.5} rotate font={MYR}>Sensitivity</Txt>
      <Txt x={507} y={903} size={9.5} anchor="middle" font={MYR}>{'1\u2212Specificity'}</Txt>
      {AUC_LABELS.map((l, i) => (
        <React.Fragment key={l}>
          <div style={{ position: 'absolute', left: 497, top: 816.3 + i * 13, width: 21, height: 1.5, background: colors[i] }} />
          <Txt x={527} y={817 + i * 13} size={9} font={MYR}>{l}</Txt>
        </React.Fragment>
      ))}
    </>
  )
}

export default function App() {
  return (
    <div style={{ position: 'absolute', left: 0, top: 0, width: 649, height: 911, background: '#fff', overflow: 'hidden', fontFamily: SANS }}>
      <PanelA />
      <PanelB />
      <PanelC />
      <Nomogram />
      <Calibration />
      <Roc />
    </div>
  )
}
